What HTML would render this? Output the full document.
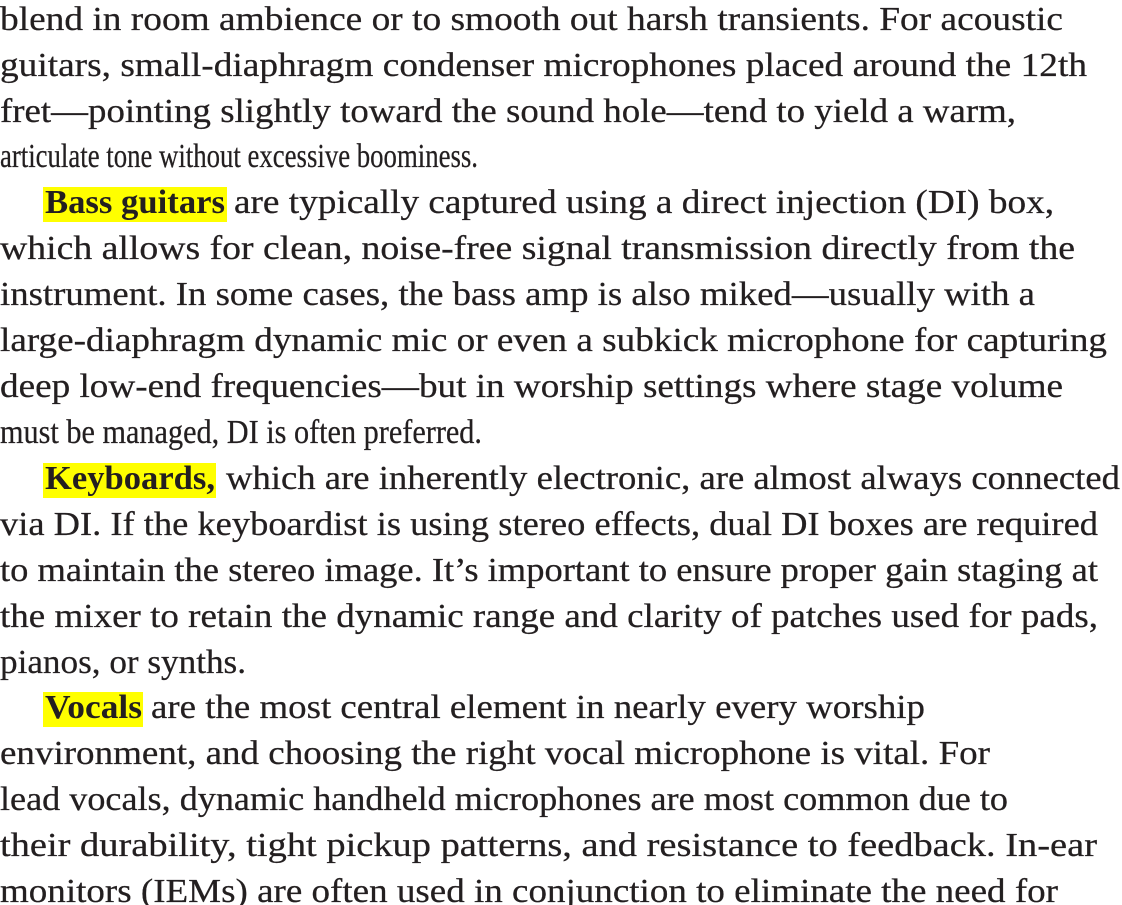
<!DOCTYPE html>
<html><head><meta charset="utf-8"><style>
html,body{margin:0;padding:0;background:#fff;width:1122px;height:905px;overflow:hidden}
svg text{font-family:"Liberation Serif",serif;font-size:33.5px;fill:#231f20;stroke:#231f20;stroke-width:0.25}
svg text.b{font-weight:bold;stroke-width:0}
</style></head><body>
<svg width="1122" height="905" xmlns="http://www.w3.org/2000/svg">
<rect x="43" y="187" width="184" height="35" fill="#ffff00"/>
<rect x="43" y="463" width="173" height="35" fill="#ffff00"/>
<rect x="43" y="692" width="100" height="35" fill="#ffff00"/>
<text x="0" y="30" textLength="1063" lengthAdjust="spacingAndGlyphs">blend in room ambience or to smooth out harsh transients. For acoustic</text>
<text x="0" y="76" textLength="1087" lengthAdjust="spacingAndGlyphs">guitars, small-diaphragm condenser microphones placed around the 12th</text>
<text x="0" y="122" textLength="1016" lengthAdjust="spacingAndGlyphs">fret—pointing slightly toward the sound hole—tend to yield a warm,</text>
<text x="0" y="167" textLength="478" lengthAdjust="spacingAndGlyphs">articulate tone without excessive boominess.</text>
<text class="b" x="45" y="213" textLength="180" lengthAdjust="spacingAndGlyphs">Bass guitars</text>
<text x="234" y="213" textLength="820" lengthAdjust="spacingAndGlyphs">are typically captured using a direct injection (DI) box,</text>
<text x="0" y="259" textLength="1075" lengthAdjust="spacingAndGlyphs">which allows for clean, noise-free signal transmission directly from the</text>
<text x="0" y="305" textLength="1035" lengthAdjust="spacingAndGlyphs">instrument. In some cases, the bass amp is also miked—usually with a</text>
<text x="0" y="351" textLength="1107" lengthAdjust="spacingAndGlyphs">large-diaphragm dynamic mic or even a subkick microphone for capturing</text>
<text x="0" y="397" textLength="1063" lengthAdjust="spacingAndGlyphs">deep low-end frequencies—but in worship settings where stage volume</text>
<text x="0" y="443" textLength="482" lengthAdjust="spacingAndGlyphs">must be managed, DI is often preferred.</text>
<text class="b" x="45" y="489" textLength="170" lengthAdjust="spacingAndGlyphs">Keyboards,</text>
<text x="226" y="489" textLength="894" lengthAdjust="spacingAndGlyphs">which are inherently electronic, are almost always connected</text>
<text x="0" y="535" textLength="1098" lengthAdjust="spacingAndGlyphs">via DI. If the keyboardist is using stereo effects, dual DI boxes are required</text>
<text x="0" y="581" textLength="1098" lengthAdjust="spacingAndGlyphs">to maintain the stereo image. It’s important to ensure proper gain staging at</text>
<text x="0" y="627" textLength="1098" lengthAdjust="spacingAndGlyphs">the mixer to retain the dynamic range and clarity of patches used for pads,</text>
<text x="0" y="673" textLength="246" lengthAdjust="spacingAndGlyphs">pianos, or synths.</text>
<text class="b" x="45" y="718" textLength="97" lengthAdjust="spacingAndGlyphs">Vocals</text>
<text x="151" y="718" textLength="774" lengthAdjust="spacingAndGlyphs">are the most central element in nearly every worship</text>
<text x="0" y="764" textLength="990" lengthAdjust="spacingAndGlyphs">environment, and choosing the right vocal microphone is vital. For</text>
<text x="0" y="810" textLength="1008" lengthAdjust="spacingAndGlyphs">lead vocals, dynamic handheld microphones are most common due to</text>
<text x="0" y="856" textLength="1097" lengthAdjust="spacingAndGlyphs">their durability, tight pickup patterns, and resistance to feedback. In-ear</text>
<text x="0" y="902" textLength="1058" lengthAdjust="spacingAndGlyphs">monitors (IEMs) are often used in conjunction to eliminate the need for</text>
</svg>
</body></html>
